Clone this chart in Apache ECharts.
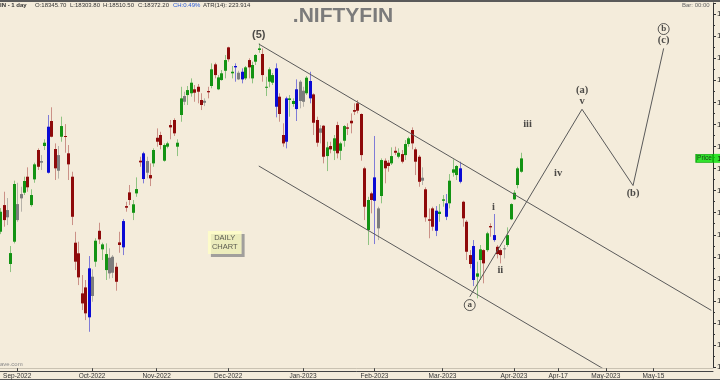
<!DOCTYPE html>
<html>
<head>
<meta charset="utf-8">
<script src="https://cdn.jsdelivr.net/npm/echarts@6/dist/echarts.min.js"></script>
<style>
  html, body { margin: 0; padding: 0; background: #f4ecdb; }
  #chart { width: 720px; height: 380px; }
</style>
</head>
<body>
<div id="chart"></div>
<script>
// ---------------- DATA ----------------
// NSE holidays inside the traded range (non-trading weekdays)
const holidays = ['2022-08-31','2022-10-05','2022-10-26','2022-11-08','2023-01-26','2023-03-07','2023-03-30','2023-04-04'];
const historyStart = '2022-08-24', historyEnd = '2023-04-06', futureEnd = '2023-06-01';

// daily OHLC, one value per trading day from 2022-08-24 to 2023-04-06
const open = [
  17827,18069,18024,17535,17737,18078,18169,18181,18326,18069,
  18302,18568,18468,18604,18362,18831,18577,18522,18688,18695,
  18538,18326,17728,17632,17269,17323,17052,17420,17556,17836,
  17668,17480,17592,17456,17510,17731,17686,18060,18184,17999,
  18175,18471,18305,18468,18341,18447,18679,18704,18471,18598,
  18794,18840,18598,18885,19057,19066,19082,19118,19141,19021,
  18996,19102,19148,19344,19118,19202,19286,19498,19263,19317,
  19268,19208,19217,19383,19217,19368,19474,19438,19132,19187,
  19178,19308,19051,18704,18643,19021,18985,18939,19187,19005,
  19082,19193,19072,18840,18764,18788,18513,18604,18561,18794,
  18561,18652,18773,18833,18930,18991,18894,18402,17843,18175,
  18320,17858,18151,18471,18453,18447,18561,18507,18531,18522,
  18622,18749,18574,18507,18317,18212,17940,18039,17836,17988,
  18108,18085,18085,18362,18341,18402,18099,17918,17616,17698,
  17420,17571,17661,17661,17879,17797,17691,17661,17677,17707,
  17940,18121,18251,18371
];
const close = [
  18009,17933,17958,17634,18260,17933,18130,18287,18230,18160,
  18438,18416,18453,18634,18779,18688,18402,18380,18785,18686,
  18438,17963,17556,17414,17178,17088,17496,17245,17746,17758,
  17713,17625,17450,17601,17374,17707,17924,18045,18115,18076,
  18214,18456,18538,18362,18311,18568,18643,18613,18613,18628,
  18773,18719,18634,19036,19005,19111,19178,19087,19096,18976,
  19014,19091,19299,19247,19226,19263,19383,19390,19277,19329,
  19208,19277,19317,19317,19338,19429,19489,19247,19141,19299,
  19247,18960,18894,18628,19036,19036,19012,19118,19012,19105,
  19223,19036,18815,18634,18724,18507,18592,18574,18674,18538,
  18628,18785,18761,18810,18915,18924,18522,18054,18115,18115,
  18108,18039,18477,18402,18423,18513,18543,18543,18462,18622,
  18674,18628,18462,18280,18290,17958,17927,17873,18018,18009,
  18121,17963,18290,18393,18423,18280,17949,17646,17535,17390,
  17450,17668,17541,17813,17867,17752,17625,17616,17668,17797,
  18078,18181,18402,18492
];
const low = [
  17806,17873,17888,17462,17722,17918,18009,18160,18190,18054,
  18271,18387,18387,18568,18355,18683,18296,18309,18643,18543,
  18296,17888,17480,17344,17118,17027,16921,17193,17510,17716,
  17571,17390,17403,17408,17293,17637,17616,18009,18069,17933,
  18144,18416,18266,18311,18241,18416,18598,18574,18462,18583,
  18665,18695,18513,18824,18976,18976,19051,19005,18991,18930,
  18966,19036,19127,19217,19111,19196,19217,19368,19217,19187,
  19202,19172,19202,19217,19172,19338,19449,19187,19057,19136,
  19157,18864,18824,18598,18583,18870,18960,18831,18946,18960,
  19066,18991,18704,18598,18628,18447,18377,18538,18477,18492,
  18477,18598,18704,18719,18885,18900,18471,17933,17707,17994,
  17716,17752,18085,18266,18371,18432,18522,18492,18447,18477,
  18598,18574,18341,18235,18251,17918,17768,17836,17788,17918,
  18054,17933,18039,18326,18296,18266,17873,17571,17496,17335,
  17224,17390,17360,17646,17782,17737,17586,17541,17586,17691,
  17933,18115,18221,18362
];
const high = [
  18042,18190,18133,17698,18290,18271,18235,18326,18411,18212,
  18453,18583,18522,18665,18885,18955,18628,18604,18870,18803,
  18613,18371,17827,17737,17435,17390,17607,17487,17768,17909,
  17728,17722,17677,17616,17546,17827,17942,18099,18251,18115,
  18320,18507,18552,18507,18447,18583,18764,18733,18628,18643,
  18840,18855,18665,19141,19096,19148,19217,19157,19166,19082,
  19036,19141,19353,19359,19247,19293,19429,19504,19329,19353,
  19286,19308,19329,19399,19368,19438,19535,19489,19232,19317,
  19265,19353,19082,18810,19051,19066,19036,19208,19202,19141,
  19238,19277,19082,18870,18794,18794,18643,18643,18704,18824,
  18643,18794,18810,18900,18991,19021,18900,18416,18144,18190,
  18695,18054,18492,18492,18477,18592,18598,18583,18568,18658,
  18688,18773,18592,18522,18411,18230,18039,18054,18060,18078,
  18160,18169,18350,18483,18432,18462,18108,17933,17661,17752,
  17556,17707,17668,17827,17904,17988,17707,17677,17707,17867,
  18085,18205,18416,18543
];
// bar class: u = up, d = down, o = outside bar, i = inside bar
const barKind = [
  'u','d','i','u','u','i','i','u','d','u',
  'u','d','i','u','o','d','d','i','u','d',
  'd','d','d','d','d','d','o','i','u','d',
  'u','u','i','i','d','d','o','d','d','u',
  'u','d','o','i','d','u','d','d','u','u',
  'd','d','u','u','i','u','u','d','d','d',
  'i','d','u','d','u','u','u','d','u','o',
  'i','o','u','d','u','u','u','d','u','u',
  'u','o','d','d','o','u','u','o','i','i',
  'u','o','d','d','i','d','u','d','u','d',
  'u','u','d','d','d','d','d','d','u','d',
  'o','i','u','d','d','u','d','u','d','u',
  'u','d','d','d','i','d','d','d','o','u',
  'u','o','u','u','u','o','d','d','d','o',
  'u','u','d','u','d','o','d','d','i','u',
  'u','u','u','u'
];

// x-axis tick labels
const xTickDates  = ['2022-09-01','2022-10-03','2022-11-01','2022-12-01','2023-01-02','2023-02-01','2023-03-01','2023-04-03','2023-04-17','2023-05-01','2023-05-15'];
const xTickLabels = ['Sep-2022','Oct-2022','Nov-2022','Dec-2022','Jan-2023','Feb-2023','Mar-2023','Apr-2023','Apr-17','May-2023','May-15'];

// y-axis scale
const yMin = 16600, yMax = 19900, yStep = 200;

// drawn channel (slot index, price)
const channelSlot = [76, 209];
const upperChannelPrice = [19528, 17115];
const lowerChannelPrice = [18423, 16010];

// projected wave path
const waveSlot  = [138, 171, 186, 195];
const wavePrice = [17238, 18937, 18246, 19489];

// wave labels
const waveText  = ['(5)', 'i', 'ii', 'iii', 'iv', '(a)', 'v', '(b)', '(c)'];
const waveLSlot = [76, 145, 147, 155, 164, 171, 171, 186, 195];
const waveLPrice = [19610, 18047, 17480, 18803, 18357, 19111, 19005, 18175, 19558];
const circledText  = ['a', 'b'];
const circledSlot  = [138, 195];
const circledPrice = [17163, 19664];

// note box
const noteText = 'DAILY\nCHART';
const noteSlot = 66, notePrice = 17730;

// header texts
const headerTitle = '.NIFTYFIN';
const headerInfo = ['IN - 1 day', 'O:18345.70', 'L:18303.80', 'H:18510.50', 'C:18372.20', 'CH:0.49%', 'ATR(14): 223.914'];

// ---------------- BUILD ----------------
function buildCategories() {
  const hol = new Set(holidays);
  const DAY = 86400000;
  const out = [];
  const toT = s => Date.UTC(+s.slice(0,4), +s.slice(5,7) - 1, +s.slice(8,10));
  let t = toT(historyStart);
  const hEnd = toT(historyEnd), fEnd = toT(futureEnd);
  for (; t <= hEnd; t += DAY) {
    const d = new Date(t), wd = d.getUTCDay(), s = d.toISOString().slice(0,10);
    if (wd > 0 && wd < 6 && !hol.has(s)) out.push(s);
  }
  for (; t <= fEnd; t += DAY) out.push(new Date(t).toISOString().slice(0,10));
  return out;
}
const categories = buildCategories();
const tickMap = {};
xTickDates.forEach((d, i) => { tickMap[d] = xTickLabels[i]; });

const candleData = open.map((o, i) => [i, o, close[i], low[i], high[i]]);
const lastClose = close[close.length - 1];

const TONE = {
  u: { body: '#139313', wick: 'rgba(19,147,19,0.45)' },
  d: { body: '#8e0a0a', wick: 'rgba(142,10,10,0.4)' },
  o: { body: '#0a0ad4', wick: 'rgba(10,10,212,0.5)' },
  i: { body: '#7d7d7d', wick: 'rgba(120,120,120,0.5)' }
};

function renderCandle(params, api) {
  const i = api.value(0);
  const pO = api.coord([i, api.value(1)]);
  const pC = api.coord([i, api.value(2)]);
  const pL = api.coord([i, api.value(3)]);
  const pH = api.coord([i, api.value(4)]);
  const tone = TONE[barKind[params.dataIndex]];
  const cx = Math.round(pO[0]);
  const top = Math.min(pO[1], pC[1]);
  const bot = Math.max(pO[1], pC[1]);
  return {
    type: 'group',
    children: [
      { type: 'line', shape: { x1: cx + 0.5, y1: pH[1], x2: cx + 0.5, y2: pL[1] },
        style: { stroke: tone.wick, lineWidth: 1 } },
      { type: 'rect', shape: { x: cx - 1, y: top, width: 3, height: Math.max(bot - top, 1) },
        style: { fill: tone.body } }
    ]
  };
}

const waveLabelData = waveText.map((t, k) => ({
  value: [categories[waveLSlot[k]], waveLPrice[k]],
  label: k === 0
    ? { formatter: t, fontFamily: 'Liberation Sans', fontSize: 11, fontWeight: 'bold', color: '#222' }
    : { formatter: t, fontFamily: 'Liberation Serif', fontSize: 10.5, fontWeight: 'bold', color: '#222' }
}));
const circledData = circledText.map((t, k) => ({
  value: [categories[circledSlot[k]], circledPrice[k]],
  label: { formatter: t }
}));

const hdrFont = '6px "Liberation Sans"';
const chart = echarts.init(document.getElementById('chart'), null, { renderer: 'canvas' });
chart.setOption({
  animation: false,
  backgroundColor: '#f4ecdb',
  textStyle: { fontFamily: 'Liberation Sans' },
  grid: { left: -1.5, right: 7, top: 3, bottom: 12.8, containLabel: false, outerBoundsMode: 'none' },
  xAxis: [{
    type: 'category',
    data: categories,
    boundaryGap: true,
    offset: 4,
    axisLine: { show: true, lineStyle: { color: '#444', width: 1 } },
    axisTick: { show: true, inside: true, length: 3, alignWithLabel: true,
      interval: (idx, val) => tickMap[val] !== undefined, lineStyle: { color: '#444' } },
    axisLabel: { show: true, margin: 2, fontSize: 6.5, color: '#333',
      interval: (idx, val) => tickMap[val] !== undefined,
      formatter: val => tickMap[val] || '' },
    splitLine: { show: false }
  }, {
    type: 'category',
    data: categories,
    position: 'bottom',
    offset: 1,
    axisLine: { show: true, lineStyle: { color: '#c9c2b2', width: 1 } },
    axisTick: { show: false },
    axisLabel: { show: false },
    splitLine: { show: false }
  }],
  yAxis: {
    type: 'value',
    position: 'right',
    min: yMin, max: yMax, interval: yStep,
    axisLine: { show: true, lineStyle: { color: '#333' } },
    axisTick: { show: true, length: 3, lineStyle: { color: '#333' } },
    minorTick: { show: true, splitNumber: 2, length: 2, lineStyle: { color: '#333' } },
    axisLabel: { show: true, margin: 4, fontSize: 8, color: '#222', showMaxLabel: false },
    splitLine: { show: false }
  },
  series: [
    {
      type: 'custom',
      name: 'candles',
      renderItem: renderCandle,
      data: candleData,
      encode: { x: 0, y: [1, 2, 3, 4] },
      z: 2
    },
    {
      type: 'line', name: 'upper channel', symbol: 'none', silent: true, z: 3,
      data: channelSlot.map((s, k) => [categories[s], upperChannelPrice[k]]),
      lineStyle: { color: '#5a5a5a', width: 1 }
    },
    {
      type: 'line', name: 'lower channel', symbol: 'none', silent: true, z: 3,
      data: channelSlot.map((s, k) => [categories[s], lowerChannelPrice[k]]),
      lineStyle: { color: '#5a5a5a', width: 1 }
    },
    {
      type: 'line', name: 'wave path', symbol: 'none', silent: true, z: 3,
      data: waveSlot.map((s, k) => [categories[s], wavePrice[k]]),
      lineStyle: { color: '#5a5a5a', width: 1 }
    },
    {
      type: 'scatter', name: 'wave labels', symbolSize: 1, silent: true, z: 5,
      itemStyle: { color: 'rgba(0,0,0,0)' },
      label: { show: true, position: 'inside' },
      data: waveLabelData
    },
    {
      type: 'scatter', name: 'circled labels', symbolSize: 1, silent: true, z: 5,
      itemStyle: { color: 'rgba(0,0,0,0)' },
      label: { show: true, position: 'inside', fontFamily: 'Liberation Serif', fontSize: 9, fontWeight: 'bold',
        color: '#222', borderColor: '#333', borderWidth: 1, borderRadius: 6,
        width: 9, height: 9, lineHeight: 9, align: 'center', padding: [1, 1, 1, 1] },
      data: circledData
    },
    {
      type: 'scatter', name: 'note', symbolSize: 1, silent: true, z: 5,
      itemStyle: { color: 'rgba(0,0,0,0)' },
      label: { show: true, position: 'inside', formatter: noteText, fontSize: 7.5, lineHeight: 9,
        color: '#333', backgroundColor: '#ffffc4', padding: [3, 4, 2, 4],
        shadowColor: '#8c8c8c', shadowOffsetX: 3, shadowOffsetY: 3, shadowBlur: 0 },
      data: [[categories[noteSlot], notePrice]]
    },
    {
      type: 'scatter', name: 'price tag', clip: false, silent: true, z: 6,
      symbol: 'rect', symbolSize: [17, 8],
      itemStyle: { color: '#00e000', borderColor: '#00a000', borderWidth: 1 },
      label: { show: true, position: 'inside', formatter: 'Price', fontSize: 6.5, color: '#111' },
      data: [[categories[categories.length - 3], lastClose]]
    },
    {
      type: 'scatter', name: 'axis tag', clip: false, silent: true, z: 6,
      symbol: 'rect', symbolSize: [10, 9], symbolOffset: [7, 0],
      itemStyle: { color: '#00e000' },
      label: { show: true, position: [4, 1], align: 'left', verticalAlign: 'top',
        formatter: String(lastClose), fontSize: 7.5, color: '#000' },
      data: [[categories[categories.length - 1], lastClose]]
    }
  ],
  graphic: [
    { type: 'rect', left: 0, top: 0, shape: { width: 720, height: 2 }, style: { fill: '#5a5a5a' }, silent: true },
    { type: 'rect', left: 0, top: 379, shape: { width: 720, height: 1 }, style: { fill: '#5a5a5a' }, silent: true },
    { type: 'text', x: 343, y: 16.5, style: { text: headerTitle, fill: '#7b7b7b', font: 'bold 21px "Liberation Sans"', textAlign: 'center', textVerticalAlign: 'middle' }, silent: true },
    { type: 'text', x: 0, y: 5.8, style: { text: headerInfo[0], fill: '#333', font: 'bold ' + hdrFont, textVerticalAlign: 'middle' }, silent: true },
    { type: 'text', x: 35, y: 5.8, style: { text: headerInfo[1], fill: '#333', font: hdrFont, textVerticalAlign: 'middle' }, silent: true },
    { type: 'text', x: 70, y: 5.8, style: { text: headerInfo[2], fill: '#333', font: hdrFont, textVerticalAlign: 'middle' }, silent: true },
    { type: 'text', x: 103, y: 5.8, style: { text: headerInfo[3], fill: '#333', font: hdrFont, textVerticalAlign: 'middle' }, silent: true },
    { type: 'text', x: 138, y: 5.8, style: { text: headerInfo[4], fill: '#333', font: hdrFont, textVerticalAlign: 'middle' }, silent: true },
    { type: 'text', x: 173, y: 5.8, style: { text: headerInfo[5], fill: '#2a5bd7', font: hdrFont, textVerticalAlign: 'middle' }, silent: true },
    { type: 'text', x: 203, y: 5.8, style: { text: headerInfo[6], fill: '#333', font: hdrFont, textVerticalAlign: 'middle' }, silent: true },
    { type: 'text', x: 682, y: 5.5, style: { text: 'Bar: 00:00', fill: '#666', font: '6px "Liberation Sans"', textVerticalAlign: 'middle' }, silent: true },
    { type: 'text', x: 0, y: 364, style: { text: 'ave.com', fill: '#8a8a8a', font: '6px "Liberation Sans"', textVerticalAlign: 'middle' }, silent: true }
  ]
});
</script>
</body>
</html>
